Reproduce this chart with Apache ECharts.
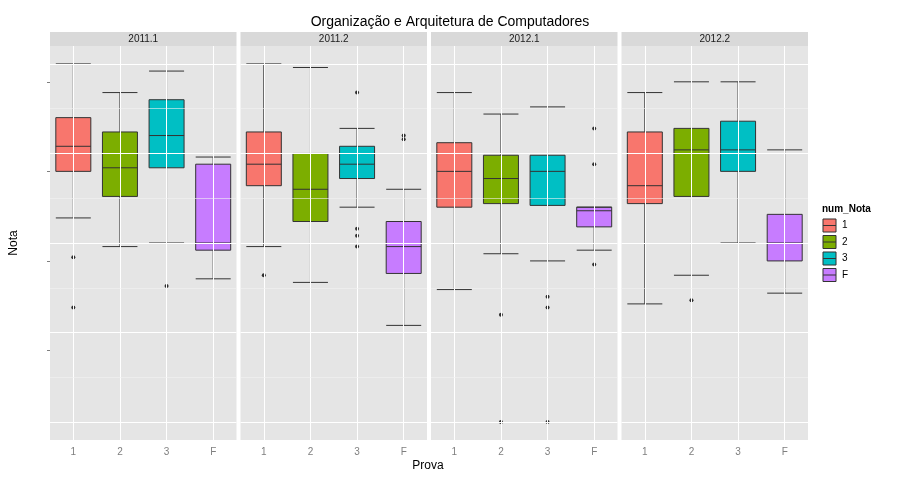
<!DOCTYPE html><html><head><meta charset="utf-8"><script src="https://cdn.jsdelivr.net/npm/echarts@6/dist/echarts.min.js"></script></head><body style="margin:0"><div id="c" style="width:900px;height:480px"></div><script>
const panels=['2011.1','2011.2','2012.1','2012.2'];
const cats=['1','2','3','F'];
const colors=['#F8766D','#7CAE00','#00BFC4','#C77CFF'];
// [min,q1,median,q3,max] per category per panel
const box2011_1=[[5.7,7.0,7.7,8.5,10.0],[4.9,6.3,7.1,8.1,9.2],[5.0,7.1,8.0,9.0,9.8],[4.0,4.8,5.0,7.2,7.4]];
const box2011_2=[[4.9,6.6,7.2,8.1,10.0],[3.9,5.6,6.5,7.5,9.9],[6.0,6.8,7.2,7.7,8.2],[2.7,4.15,4.9,5.6,6.5]];
const box2012_1=[[3.7,6.0,7.0,7.8,9.2],[4.7,6.1,6.8,7.45,8.6],[4.5,6.05,7.0,7.45,8.8],[4.8,5.45,5.9,6.0,6.0]];
const box2012_2=[[3.3,6.1,6.6,8.1,9.2],[4.1,6.3,7.6,8.2,9.5],[5.0,7.0,7.6,8.4,9.5],[3.6,4.5,5.0,5.8,7.6]];
const out2011_1=[[0,4.6],[0,3.2],[2,3.8]];
const out2011_2=[[0,4.1],[2,9.2],[2,5.4],[2,5.2],[2,4.9],[3,8.0],[3,7.9]];
const out2012_1=[[1,3.0],[1,0],[2,3.5],[2,3.2],[2,0],[3,8.2],[3,7.2],[3,4.4]];
const out2012_2=[[1,3.4]];
const boxes=[box2011_1,box2011_2,box2012_1,box2012_2];
const outs=[out2011_1,out2011_2,out2012_1,out2012_2];
const yTicks=[0,2.5,5,7.5,10];
const grids=[],xAxes=[],yAxes=[],series=[],graphic=[];
const W=186.5;
panels.forEach((p,i)=>{
  const left=50+i*190.5;
  grids.push({left:left,width:W,top:46,bottom:40,show:true,backgroundColor:'#e5e5e5',borderWidth:0});
  xAxes.push({type:'category',gridIndex:i,data:cats,axisLine:{show:false},axisTick:{show:true,alignWithLabel:true,lineStyle:{color:'#7f7f7f'},length:3},axisLabel:{color:'#7f7f7f',fontSize:10,margin:7},splitLine:{show:false}});
  yAxes.push({type:'value',gridIndex:i,min:-0.5,max:10.5,interval:2.5,
    axisLabel:{show:i===0,color:'#7f7f7f',fontSize:10,formatter:v=>yTicks.includes(v)?v.toFixed(1):'',showMinLabel:false,showMaxLabel:false},
    axisTick:{show:i===0,lineStyle:{color:'#7f7f7f'},length:3},axisLine:{show:false},
    splitLine:{show:false},
    name:i===0?'Nota':'',nameLocation:'middle',nameGap:30,nameTextStyle:{fontSize:12,color:'#000'}});
  const ml=[];
  cats.forEach((c,k)=>ml.push({xAxis:k}));
  yTicks.forEach(v=>ml.push({yAxis:v}));
  const mm=[1.25,3.75,6.25,8.75].map(v=>({yAxis:v,lineStyle:{color:'#f2f2f2',width:0.6}}));
  series.push({type:'line',xAxisIndex:i,yAxisIndex:i,data:[],z:1,silent:true,
    markLine:{silent:true,symbol:'none',label:{show:false},lineStyle:{color:'#ffffff',width:1,type:'solid'},data:ml.concat(mm),animation:false}});
  series.push({type:'boxplot',xAxisIndex:i,yAxisIndex:i,z:3,boxWidth:[35,35],
    data:boxes[i].map((b,k)=>({value:b,itemStyle:{color:colors[k],borderColor:'#333',borderWidth:1}}))});
  series.push({type:'scatter',xAxisIndex:i,yAxisIndex:i,z:4,data:outs[i],symbolSize:4,itemStyle:{color:'#000'}});
  graphic.push({type:'rect',shape:{x:left,y:32,width:W,height:14},style:{fill:'#d9d9d9'}});
  graphic.push({type:'text',x:left+W/2,y:39,style:{text:p,fontSize:10,fill:'#1a1a1a',textAlign:'center',textVerticalAlign:'middle'}});
});
graphic.push({type:'text',x:450,y:22,style:{text:'Organização e Arquitetura de Computadores',fontSize:14,fill:'#000',textAlign:'center',textVerticalAlign:'middle'}});
graphic.push({type:'text',x:428,y:466,style:{text:'Prova',fontSize:12,fill:'#000',textAlign:'center',textVerticalAlign:'middle'}});
graphic.push({type:'text',x:822,y:209,style:{text:'num_Nota',fontSize:10,fontWeight:'bold',fill:'#000',textVerticalAlign:'middle'}});
cats.forEach((c,k)=>{
  const y=218+k*16.5;
  graphic.push({type:'rect',shape:{x:822,y:y,width:15,height:15},style:{fill:'#f2f2f2',stroke:'#fff'}});
  graphic.push({type:'rect',shape:{x:823,y:y+1,width:13,height:13},style:{fill:colors[k],stroke:'#333',lineWidth:1}});
  graphic.push({type:'line',shape:{x1:823,y1:y+7.5,x2:836,y2:y+7.5},style:{stroke:'#333',lineWidth:1}});
  graphic.push({type:'text',x:842,y:y+7.5,style:{text:c,fontSize:10,fill:'#000',textVerticalAlign:'middle'}});
});
const ch=echarts.init(document.getElementById('c'));
ch.setOption({animation:false,backgroundColor:'#fff',grid:grids,xAxis:xAxes,yAxis:yAxes,series:series,graphic:graphic});
</script></body></html>
